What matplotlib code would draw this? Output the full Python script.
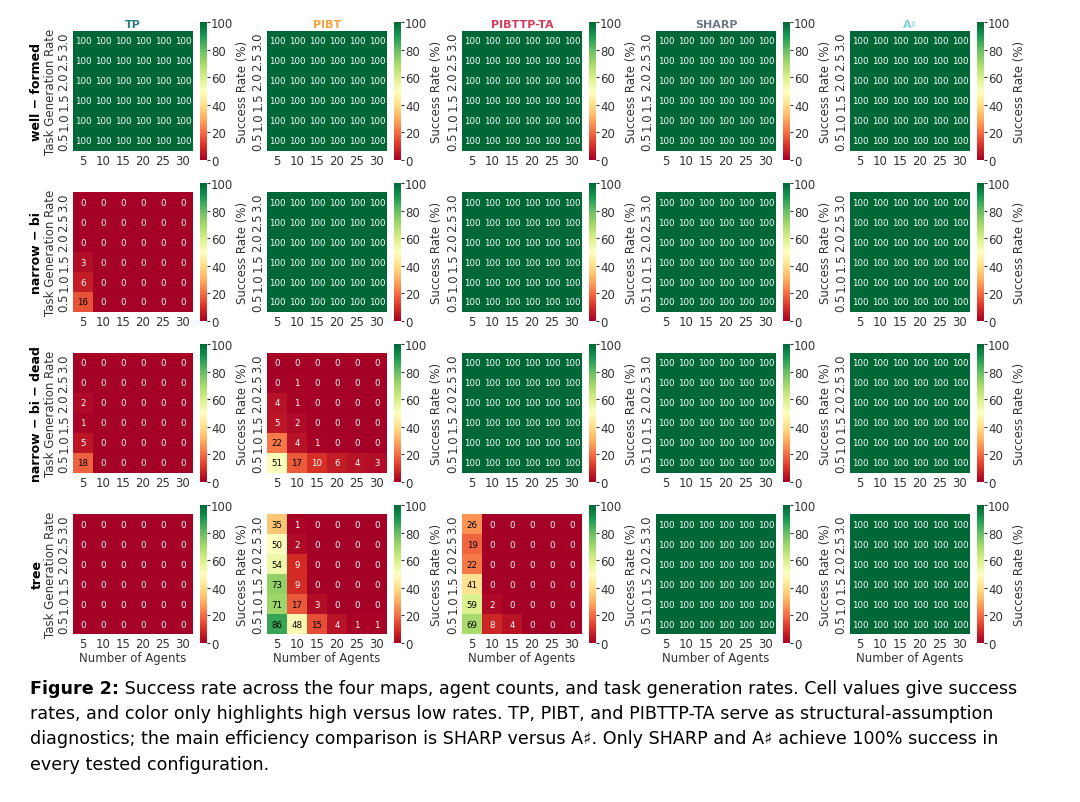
import numpy as np
import matplotlib as mpl
mpl.use('Agg')
import matplotlib.pyplot as plt

# data: rows are task generation rates from 3.0 (top) to 0.5 (bottom)
agents = [5, 10, 15, 20, 25, 30]
rates = [3.0, 2.5, 2.0, 1.5, 1.0, 0.5]
methods = ['TP', 'PIBT', 'PIBTTP-TA', 'SHARP', 'A\u266f']
method_colors = ['#2d7a8a', '#f4a03e', '#d43d5a', '#6b7a8a', '#7fd0da']
maps = ['well \u2212 formed', 'narrow \u2212 bi', 'narrow \u2212 bi \u2212 dead', 'tree']

full = [[100] * 6 for _ in range(6)]
zero = [[0] * 6 for _ in range(6)]

tp_narrow_bi = [
    [0, 0, 0, 0, 0, 0],
    [0, 0, 0, 0, 0, 0],
    [0, 0, 0, 0, 0, 0],
    [3, 0, 0, 0, 0, 0],
    [6, 0, 0, 0, 0, 0],
    [16, 0, 0, 0, 0, 0],
]
tp_narrow_dead = [
    [0, 0, 0, 0, 0, 0],
    [0, 0, 0, 0, 0, 0],
    [2, 0, 0, 0, 0, 0],
    [1, 0, 0, 0, 0, 0],
    [5, 0, 0, 0, 0, 0],
    [18, 0, 0, 0, 0, 0],
]
pibt_narrow_dead = [
    [0, 0, 0, 0, 0, 0],
    [0, 1, 0, 0, 0, 0],
    [4, 1, 0, 0, 0, 0],
    [5, 2, 0, 0, 0, 0],
    [22, 4, 1, 0, 0, 0],
    [51, 17, 10, 6, 4, 3],
]
pibt_tree = [
    [35, 1, 0, 0, 0, 0],
    [50, 2, 0, 0, 0, 0],
    [54, 9, 0, 0, 0, 0],
    [73, 9, 0, 0, 0, 0],
    [71, 17, 3, 0, 0, 0],
    [86, 48, 15, 4, 1, 1],
]
pibttp_tree = [
    [26, 0, 0, 0, 0, 0],
    [19, 0, 0, 0, 0, 0],
    [22, 0, 0, 0, 0, 0],
    [41, 0, 0, 0, 0, 0],
    [59, 2, 0, 0, 0, 0],
    [69, 8, 4, 0, 0, 0],
]

grid = [
    [full, full, full, full, full],
    [tp_narrow_bi, full, full, full, full],
    [tp_narrow_dead, pibt_narrow_dead, full, full, full],
    [zero, pibt_tree, pibttp_tree, full, full],
]

W, H = 1080, 803
fig = plt.figure(figsize=(W / 100, H / 100), dpi=100)
cmap = plt.get_cmap('RdYlGn')
norm = mpl.colors.Normalize(0, 100)

def box(x, y, w, h):
    return [x / W, 1 - (y + h) / H, w / W, h / H]

col_x = [73, 267, 462, 656, 850]
row_y = [23, 184, 345, 506]
hm = 120
cb_h = 138

for r in range(4):
    for c in range(5):
        data = np.array(grid[r][c])
        ax = fig.add_axes(box(col_x[c], row_y[r] + 9, hm, hm))
        ax.imshow(data, cmap=cmap, norm=norm, aspect='auto',
                  extent=(0, 6, 6, 0))
        for i in range(6):
            for j in range(6):
                v = data[i, j]
                rgba = cmap(norm(v))
                lum = 0.2126 * rgba[0] + 0.7152 * rgba[1] + 0.0722 * rgba[2]
                tc = 'black' if lum > 0.408 else 'white'
                ax.text(j + 0.5, i + 0.5, str(v), ha='center', va='center',
                        fontsize=6.2, color=tc)
        ax.set_xlim(0, 6)
        ax.set_ylim(6, 0)
        ax.set_xticks(np.arange(6) + 0.5)
        ax.set_xticklabels(agents)
        ax.set_yticks(np.arange(6) + 0.5)
        ax.set_yticklabels(rates, rotation=90, va='center')
        ax.tick_params(length=0, labelsize=8.5, pad=2, colors='#333333')
        for s in ax.spines.values():
            s.set_visible(False)
        if r == 0:
            ax.set_title(methods[c], fontsize=8, fontweight='bold',
                         color=method_colors[c], pad=3)
        if r == 3:
            ax.set_xlabel('Number of Agents', fontsize=8.5, color='#333333',
                          labelpad=1)
        if c == 0:
            ax.set_ylabel('Task Generation Rate', fontsize=8.5,
                          color='#333333', labelpad=0)
            fig.text(37 / W, 1 - (row_y[r] + 9 + hm / 2) / H, maps[r],
                     rotation=90, ha='center', va='center',
                     fontsize=9, fontweight='bold')

        cax = fig.add_axes(box(col_x[c] + 127, row_y[r], 7, cb_h))
        cb = fig.colorbar(mpl.cm.ScalarMappable(norm=norm, cmap=cmap), cax=cax)
        cb.outline.set_visible(False)
        cb.set_ticks([0, 20, 40, 60, 80, 100])
        cax.tick_params(labelsize=8.5, length=2, pad=1, colors='#333333')
        cb.set_label('Success Rate (%)', fontsize=8.5, color='#333333',
                     labelpad=2)

# caption
cap_font = ['DejaVu Sans']
cap_fs = 12.6
lines = [
    ('Figure 2:', ' Success rate across the four maps, agent counts, and task generation rates. Cell values give success'),
    ('', 'rates, and color only highlights high versus low rates. TP, PIBT, and PIBTTP-TA serve as structural-assumption'),
    ('', 'diagnostics; the main efficiency comparison is SHARP versus A\u266f. Only SHARP and A\u266f achieve 100% success in'),
    ('', 'every tested configuration.'),
]
line_y = [689, 714, 739, 765]
for (bold, rest), y in zip(lines, line_y):
    x = 30 / W
    if bold:
        t = fig.text(x, 1 - y / H, bold, fontsize=cap_fs, fontweight='bold',
                     family=cap_font, va='center', ha='left')
        fig.canvas.draw()
        bb = t.get_window_extent()
        x = bb.x1 / W
    fig.text(x, 1 - y / H, rest, fontsize=cap_fs, family=cap_font,
             va='center', ha='left')

fig.savefig('out.png', dpi=100)
